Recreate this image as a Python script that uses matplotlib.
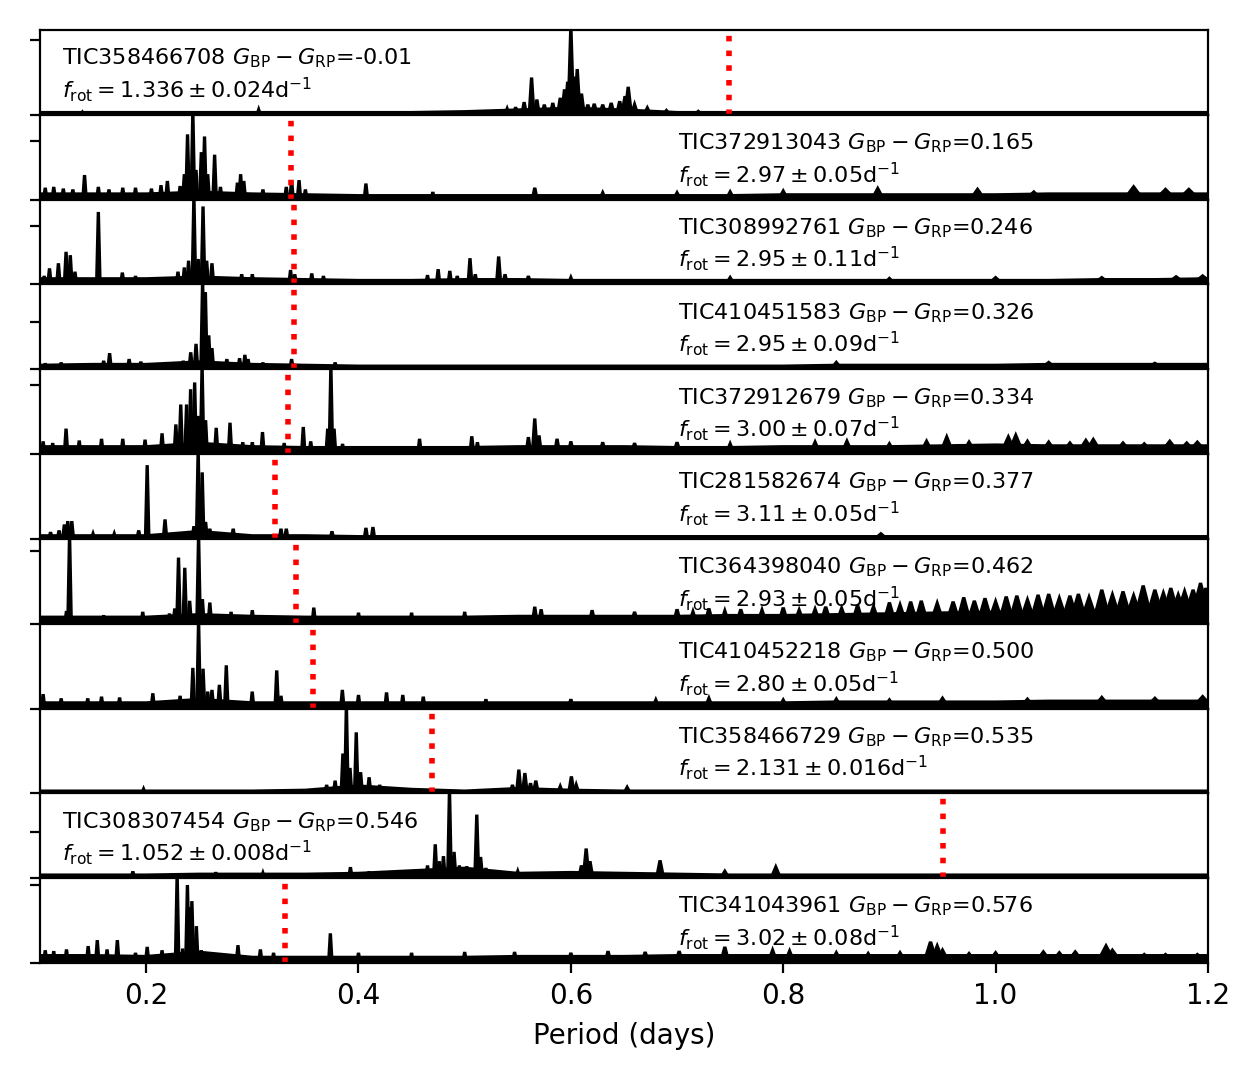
import numpy as np
import matplotlib
matplotlib.use("Agg")
import matplotlib.pyplot as plt

# ---------------- data ----------------
tic_ids = ["TIC358466708", "TIC372913043", "TIC308992761", "TIC410451583",
           "TIC372912679", "TIC281582674", "TIC364398040", "TIC410452218",
           "TIC358466729", "TIC308307454", "TIC341043961"]
bp_rp = ["-0.01", "0.165", "0.246", "0.326", "0.334", "0.377", "0.462",
         "0.500", "0.535", "0.546", "0.576"]
f_rot = [1.336, 2.97, 2.95, 2.95, 3.00, 3.11, 2.93, 2.80, 2.131, 1.052, 3.02]
f_rot_txt = ["1.336", "2.97", "2.95", "2.95", "3.00", "3.11", "2.93", "2.80",
             "2.131", "1.052", "3.02"]
f_err_txt = ["0.024", "0.05", "0.11", "0.09", "0.07", "0.05", "0.05", "0.05",
             "0.016", "0.008", "0.08"]
text_left = [True, False, False, False, False, False, False, False, False, True, False]
y_ticks = [[0, 0.88], [0, 0.69], [0, 0.69], [0, 0.56], [0, 0.82], [0],
           [0, 0.86], [0], [0], [0, 0.545], [0, 0.92]]

# noise floor (normalised power) sampled at periods 0.10, 0.15, ..., 1.20 d
floor_period = [0.10, 0.15, 0.20, 0.25, 0.30, 0.35, 0.40, 0.45, 0.50, 0.55, 0.60, 0.65,
                0.70, 0.75, 0.80, 0.85, 0.90, 0.95, 1.00, 1.05, 1.10, 1.15, 1.20]
floor_1 = [0.02, 0.02, 0.02, 0.02, 0.02, 0.02, 0.02, 0.02, 0.03, 0.05, 0.07, 0.05,
           0.02, 0.02, 0.02, 0.02, 0.02, 0.02, 0.02, 0.02, 0.02, 0.02, 0.02]
floor_2 = [0.06, 0.06, 0.06, 0.08, 0.06, 0.05, 0.04, 0.04, 0.04, 0.04, 0.04, 0.04,
           0.04, 0.04, 0.05, 0.05, 0.05, 0.05, 0.05, 0.06, 0.06, 0.06, 0.06]
floor_3 = [0.06, 0.06, 0.06, 0.08, 0.06, 0.05, 0.04, 0.04, 0.05, 0.05, 0.04, 0.04,
           0.04, 0.04, 0.04, 0.04, 0.04, 0.04, 0.04, 0.04, 0.05, 0.05, 0.06]
floor_4 = [0.04, 0.05, 0.05, 0.08, 0.05, 0.04, 0.03, 0.03, 0.03, 0.03, 0.03, 0.03,
           0.03, 0.03, 0.03, 0.04, 0.04, 0.04, 0.04, 0.05, 0.05, 0.05, 0.05]
floor_5 = [0.08, 0.08, 0.08, 0.12, 0.08, 0.07, 0.07, 0.07, 0.07, 0.08, 0.08, 0.08,
           0.07, 0.07, 0.08, 0.08, 0.08, 0.09, 0.10, 0.09, 0.09, 0.09, 0.09]
floor_6 = [0.03, 0.03, 0.03, 0.08, 0.03, 0.03, 0.02, 0.02, 0.02, 0.02, 0.02, 0.02,
           0.02, 0.02, 0.02, 0.02, 0.02, 0.02, 0.02, 0.02, 0.02, 0.02, 0.02]
floor_7 = [0.07, 0.07, 0.07, 0.10, 0.08, 0.07, 0.07, 0.07, 0.07, 0.08, 0.08, 0.08,
           0.08, 0.09, 0.09, 0.10, 0.11, 0.12, 0.13, 0.14, 0.15, 0.16, 0.17]
floor_8 = [0.06, 0.06, 0.06, 0.10, 0.06, 0.06, 0.06, 0.06, 0.06, 0.06, 0.06, 0.06,
           0.06, 0.06, 0.06, 0.07, 0.07, 0.07, 0.07, 0.08, 0.08, 0.08, 0.08]
floor_9 = [0.02, 0.02, 0.02, 0.02, 0.02, 0.03, 0.08, 0.04, 0.02, 0.05, 0.03, 0.02,
           0.02, 0.02, 0.02, 0.02, 0.02, 0.02, 0.02, 0.02, 0.02, 0.02, 0.02]
floor_10 = [0.03, 0.03, 0.03, 0.04, 0.04, 0.04, 0.05, 0.08, 0.11, 0.05, 0.06, 0.05,
            0.04, 0.03, 0.03, 0.03, 0.03, 0.03, 0.03, 0.03, 0.03, 0.03, 0.03]
floor_11 = [0.08, 0.08, 0.07, 0.12, 0.06, 0.06, 0.06, 0.06, 0.06, 0.07, 0.07, 0.07,
            0.08, 0.08, 0.08, 0.08, 0.08, 0.08, 0.08, 0.08, 0.08, 0.08, 0.08]

# peaks: (period [d], normalised power)
peaks_1 = [(0.140, 0.03), (0.306, 0.06), (0.540, 0.07), (0.548, 0.09), (0.556, 0.15),
           (0.563, 0.44), (0.568, 0.18), (0.575, 0.12), (0.583, 0.14), (0.590, 0.20),
           (0.594, 0.30), (0.597, 0.39), (0.600, 1.05), (0.603, 0.45), (0.606, 0.54),
           (0.610, 0.25), (0.616, 0.12), (0.622, 0.13), (0.630, 0.12), (0.638, 0.14),
           (0.646, 0.16), (0.651, 0.22), (0.654, 0.33), (0.660, 0.12), (0.672, 0.08),
           (0.690, 0.05), (0.720, 0.04)]
peaks_2 = [(0.105, 0.14), (0.113, 0.15), (0.122, 0.13), (0.131, 0.12), (0.142, 0.29),
           (0.155, 0.15), (0.165, 0.12), (0.178, 0.14), (0.190, 0.14), (0.205, 0.13),
           (0.214, 0.17), (0.220, 0.22), (0.232, 0.16), (0.236, 0.30), (0.239, 0.77),
           (0.244, 1.05), (0.247, 0.35), (0.252, 0.56), (0.255, 0.745), (0.258, 0.30),
           (0.2645, 0.53), (0.270, 0.15), (0.286, 0.20), (0.289, 0.30), (0.292, 0.22),
           (0.310, 0.12), (0.332, 0.15), (0.337, 0.23), (0.344, 0.23), (0.350, 0.12),
           (0.407, 0.19), (0.470, 0.09), (0.566, 0.14), (0.630, 0.08), (0.700, 0.08),
           (0.750, 0.09), (0.800, 0.10), (0.889, 0.13), (0.983, 0.12), (1.036, 0.09),
           (1.130, 0.15), (1.160, 0.12), (1.182, 0.12)]
peaks_3 = [(0.104, 0.10), (0.109, 0.19), (0.1174, 0.25), (0.1246, 0.385), (0.1286, 0.345),
           (0.133, 0.15), (0.155, 0.855), (0.1776, 0.14), (0.190, 0.10), (0.230, 0.15),
           (0.236, 0.20), (0.240, 0.28), (0.245, 1.05), (0.249, 0.30), (0.2536, 0.92),
           (0.257, 0.28), (0.262, 0.25), (0.290, 0.12), (0.300, 0.12), (0.336, 0.17),
           (0.340, 0.12), (0.356, 0.13), (0.367, 0.10), (0.465, 0.11), (0.475, 0.18),
           (0.486, 0.16), (0.493, 0.10), (0.505, 0.31), (0.510, 0.12), (0.532, 0.33),
           (0.538, 0.12), (0.560, 0.10), (0.600, 0.08), (0.750, 0.08), (0.900, 0.07),
           (1.000, 0.08), (1.100, 0.08), (1.170, 0.09), (1.195, 0.10)]
peaks_4 = [(0.105, 0.07), (0.120, 0.08), (0.160, 0.10), (0.1656, 0.19), (0.184, 0.12),
           (0.195, 0.09), (0.235, 0.10), (0.242, 0.20), (0.247, 0.30), (0.2532, 1.05),
           (0.2558, 0.91), (0.259, 0.40), (0.262, 0.25), (0.276, 0.12), (0.288, 0.13),
           (0.293, 0.17), (0.296, 0.12), (0.310, 0.08), (0.337, 0.12), (0.378, 0.08),
           (0.850, 0.08), (1.050, 0.08), (1.150, 0.07)]
peaks_5 = [(0.103, 0.15), (0.112, 0.13), (0.1246, 0.30), (0.137, 0.16), (0.158, 0.18),
           (0.178, 0.18), (0.199, 0.17), (0.215, 0.245), (0.228, 0.35), (0.2326, 0.585),
           (0.2381, 0.585), (0.2419, 0.765), (0.2457, 0.845), (0.249, 0.45), (0.2527, 1.05),
           (0.256, 0.40), (0.266, 0.31), (0.279, 0.37), (0.291, 0.14), (0.300, 0.14),
           (0.3096, 0.26), (0.330, 0.13), (0.348, 0.32), (0.355, 0.15), (0.371, 0.30),
           (0.374, 1.05), (0.377, 0.30), (0.385, 0.12), (0.4575, 0.18), (0.5067, 0.21),
           (0.512, 0.14), (0.560, 0.20), (0.566, 0.42), (0.570, 0.22), (0.587, 0.18),
           (0.600, 0.15), (0.630, 0.14), (0.660, 0.13), (0.700, 0.14), (0.750, 0.12),
           (0.830, 0.14), (0.860, 0.15), (0.900, 0.12), (0.935, 0.15), (0.954, 0.20),
           (0.975, 0.14), (1.012, 0.20), (1.019, 0.22), (1.030, 0.15), (1.050, 0.14),
           (1.070, 0.13), (1.085, 0.16), (1.092, 0.17), (1.120, 0.13), (1.140, 0.12),
           (1.164, 0.15), (1.180, 0.13), (1.190, 0.14)]
peaks_6 = [(0.110, 0.08), (0.118, 0.10), (0.123, 0.17), (0.1262, 0.21), (0.130, 0.21),
           (0.150, 0.06), (0.170, 0.06), (0.193, 0.10), (0.201, 0.87), (0.2178, 0.23),
           (0.240, 0.09), (0.245, 0.15), (0.249, 1.05), (0.2528, 0.785), (0.256, 0.20),
           (0.260, 0.12), (0.282, 0.12), (0.327, 0.12), (0.332, 0.12), (0.375, 0.09),
           (0.407, 0.13), (0.4136, 0.14), (0.892, 0.06)]
peaks_7 = [(0.125, 0.15), (0.1279, 1.05), (0.160, 0.10), (0.1968, 0.14), (0.222, 0.12),
           (0.227, 0.18), (0.2305, 0.78), (0.2364, 0.66), (0.241, 0.27), (0.2494, 1.05),
           (0.253, 0.29), (0.260, 0.25), (0.280, 0.14), (0.300, 0.16), (0.3579, 0.19),
           (0.400, 0.13), (0.450, 0.13), (0.500, 0.14), (0.566, 0.20), (0.572, 0.17),
           (0.620, 0.16), (0.660, 0.14), (0.700, 0.17), (0.715, 0.14), (0.730, 0.18),
           (0.745, 0.15), (0.760, 0.17), (0.780, 0.16), (0.800, 0.19), (0.815, 0.16),
           (0.830, 0.17), (0.840, 0.20), (0.855, 0.18), (0.870, 0.22), (0.885, 0.20),
           (0.900, 0.25), (0.910, 0.22), (0.920, 0.26), (0.930, 0.27), (0.945, 0.24),
           (0.960, 0.26), (0.970, 0.31), (0.980, 0.27), (0.990, 0.30), (1.000, 0.26),
           (1.010, 0.32), (1.020, 0.33), (1.030, 0.28), (1.040, 0.34), (1.050, 0.35),
           (1.060, 0.30), (1.070, 0.33), (1.078, 0.35), (1.088, 0.31), (1.100, 0.40),
           (1.110, 0.34), (1.120, 0.38), (1.130, 0.33), (1.139, 0.45), (1.150, 0.40),
           (1.158, 0.36), (1.165, 0.42), (1.172, 0.34), (1.178, 0.38), (1.186, 0.40),
           (1.193, 0.48), (1.198, 0.42)]
peaks_8 = [(0.103, 0.17), (0.120, 0.12), (0.145, 0.12), (0.158, 0.14), (0.175, 0.13),
           (0.2063, 0.18), (0.232, 0.15), (0.244, 0.48), (0.2494, 1.05), (0.2536, 0.47),
           (0.258, 0.20), (0.262, 0.22), (0.269, 0.28), (0.2755, 0.51), (0.2999, 0.20),
           (0.323, 0.45), (0.327, 0.15), (0.3848, 0.22), (0.400, 0.16), (0.4264, 0.19),
           (0.4417, 0.16), (0.461, 0.14), (0.520, 0.11), (0.600, 0.11), (0.680, 0.10),
           (0.730, 0.12), (0.800, 0.10), (0.850, 0.11), (0.900, 0.10), (0.950, 0.12),
           (1.030, 0.11), (1.100, 0.13), (1.150, 0.12), (1.195, 0.14)]
peaks_9 = [(0.1976, 0.05), (0.370, 0.10), (0.378, 0.15), (0.3853, 0.47), (0.3886, 1.05),
           (0.392, 0.30), (0.3979, 0.72), (0.402, 0.25), (0.410, 0.19), (0.420, 0.10),
           (0.545, 0.10), (0.551, 0.28), (0.5567, 0.24), (0.562, 0.12), (0.567, 0.15),
           (0.590, 0.08), (0.6005, 0.20), (0.605, 0.10), (0.653, 0.07)]
peaks_10 = [(0.1875, 0.08), (0.2656, 0.07), (0.310, 0.06), (0.3924, 0.13), (0.410, 0.08),
            (0.455, 0.10), (0.465, 0.15), (0.4723, 0.40), (0.476, 0.20), (0.480, 0.26),
            (0.4857, 1.05), (0.490, 0.31), (0.495, 0.15), (0.502, 0.14), (0.5114, 0.75),
            (0.515, 0.25), (0.520, 0.12), (0.550, 0.08), (0.610, 0.15), (0.6144, 0.35),
            (0.618, 0.20), (0.684, 0.21), (0.745, 0.08), (0.793, 0.13)]
peaks_11 = [(0.105, 0.15), (0.113, 0.14), (0.125, 0.16), (0.1454, 0.20), (0.154, 0.27),
            (0.1632, 0.16), (0.1729, 0.27), (0.190, 0.12), (0.201, 0.19), (0.215, 0.15),
            (0.2292, 1.05), (0.2345, 0.17), (0.2389, 0.92), (0.241, 0.66), (0.2431, 0.73),
            (0.2473, 0.435), (0.252, 0.15), (0.2865, 0.21), (0.3076, 0.16), (0.320, 0.12),
            (0.3735, 0.35), (0.400, 0.12), (0.450, 0.12), (0.500, 0.13), (0.547, 0.13),
            (0.600, 0.12), (0.635, 0.14), (0.670, 0.13), (0.702, 0.14), (0.745, 0.19),
            (0.790, 0.15), (0.806, 0.14), (0.850, 0.12), (0.880, 0.11), (0.910, 0.12),
            (0.9387, 0.25), (0.945, 0.20), (0.950, 0.15), (0.975, 0.11), (1.000, 0.12),
            (1.045, 0.13), (1.060, 0.12), (1.075, 0.13), (1.104, 0.20), (1.110, 0.15),
            (1.140, 0.10), (1.160, 0.10), (1.190, 0.10)]

floors = [floor_1, floor_2, floor_3, floor_4, floor_5, floor_6, floor_7, floor_8,
          floor_9, floor_10, floor_11]
peaks = [peaks_1, peaks_2, peaks_3, peaks_4, peaks_5, peaks_6, peaks_7, peaks_8,
         peaks_9, peaks_10, peaks_11]

# ---------------- figure ----------------
plt.rcParams['font.family'] = ['DejaVu Sans']
fig, axes = plt.subplots(len(tic_ids), 1, sharex=True, figsize=(6.3, 5.4), dpi=200)
fig.subplots_adjust(left=0.0317, right=0.9587, bottom=0.1083, top=0.9722, hspace=0)


def spike_halfwidth(p):
    # constant frequency resolution -> peak width in period grows as P^2 (style)
    return max(0.0016, 0.007 * p * p)


for i, ax in enumerate(axes):
    fp = np.array(floor_period)
    fv = np.array(floors[i])
    ax.fill_between(fp, 0, fv, color='black', lw=0)
    ax.plot(fp, fv, color='black', lw=1.6)
    for p, h in peaks[i]:
        w = spike_halfwidth(p)
        ax.fill([p - w, p, p + w], [0, h, 0], facecolor='black', edgecolor='black',
                lw=1.2, joinstyle='miter')
    ax.axvline(1.0 / f_rot[i], color='red', ls=':', lw=2)
    ax.set_ylim(0, 1)
    ax.set_xlim(0.1, 1.2)
    ax.set_yticks(y_ticks[i])
    ax.set_yticklabels([])
    line1 = tic_ids[i] + r" $G_{\rm BP}-G_{\rm RP}$=" + bp_rp[i]
    line2 = r"$f_{\rm rot}=" + f_rot_txt[i] + r"\pm" + f_err_txt[i] + r"$d$^{-1}$"
    xt = 0.019 if text_left[i] else 0.546
    ax.text(xt, 0.665, line1, transform=ax.transAxes, fontsize=8, va='center', ha='left')
    ax.text(xt, 0.30, line2, transform=ax.transAxes, fontsize=8, va='center', ha='left')
    if i < len(axes) - 1:
        ax.tick_params(axis='x', bottom=False)

axes[-1].set_xticks([0.2, 0.4, 0.6, 0.8, 1.0, 1.2])
axes[-1].set_xlabel("Period (days)")
fig.savefig("out.png", dpi=200)
